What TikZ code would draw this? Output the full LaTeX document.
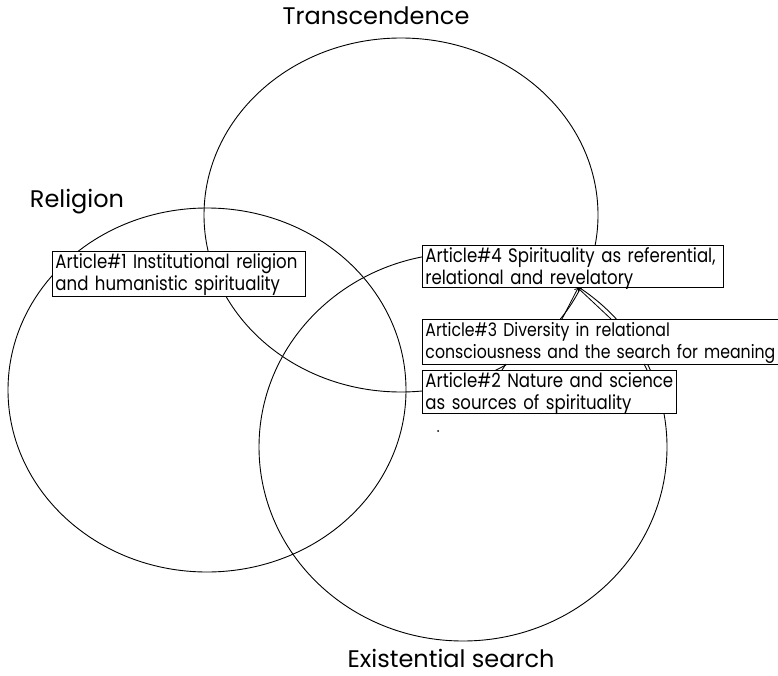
\documentclass[tikz,border=0pt]{standalone}
\usepackage{fontspec}
\setmainfont{Poppins}
\newfontfamily\boxfont[FakeStretch=0.85]{Poppins}
\usetikzlibrary{arrows.meta}
\hyphenpenalty=10000

\tikzset{
  article/.style={draw, fill=white, anchor=north west, align=left,
    inner xsep=3pt, inner ysep=0pt, text height=17pt, line width=0.9pt,
    font=\boxfont\fontsize{19.5}{22}\selectfont},
  circ/.style={line width=0.9pt},
  lbl/.style={anchor=base, inner sep=0pt, font=\fontsize{24}{28}\selectfont}
}

\begin{document}
\begin{tikzpicture}[x=1pt,y=-1pt]
        \useasboundingbox (0,0) rectangle (778,676);

        % the three sets
        \draw[circ] (207,390) ellipse [x radius=199, y radius=182];
        \draw[circ] (401,215) ellipse [x radius=197, y radius=177];
        \draw[circ] (463,447) ellipse [x radius=204, y radius=194];

        \node[lbl] (rel) at (77,208) {Religion};
        \node[lbl] (tra) at (376,25) {Transcendence};
        \node[lbl] (exi) at (451,667) {Existential search};

        % articles
        \node[article, minimum width=253pt, minimum height=45pt, text width=247pt, text depth=28pt] (a1) at (52,251)
            {Article\#1 Institutional religion\\and humanistic spirituality};
        \node[article, minimum width=301pt, minimum height=42pt, text width=295pt, text depth=25pt] (a4) at (422,245)
            {Article\#4 Spirituality as referential,\\relational and revelatory};
        \node[article, minimum width=426pt, minimum height=45pt, text width=420pt, text depth=28pt,
              font=\boxfont\fontsize{18.5}{22}\selectfont] (a3) at (422,319)
            {Article\#3 Diversity in relational\\consciousness and the search for meaning};
        \node[article, minimum width=254pt, minimum height=43pt, text width=248pt, text depth=26pt] (a2) at (422,370)
            {Article\#2 Nature and science\\as sources of spirituality};

        \coordinate (t4) at (578,288);
        \coordinate (s1) at (562,319);
        \coordinate (s2) at (611,319);
        \draw[line width=0.8pt, -{Straight Barb[length=2.5pt,width=5pt]}] (s1) to (t4);
        \draw[line width=0.8pt, -{Straight Barb[length=2.5pt,width=5pt]}] (s2) to (t4);

        \coordinate (u1) at (502,370);
        \coordinate (v1) at (506,364);
        \coordinate (u2) at (647,370);
        \coordinate (v2) at (644,364);
        \draw[line width=0.9pt] (u1) to (v1);
        \draw[line width=0.9pt] (u2) to (v2);

        \fill (438,431) circle [radius=1pt];

    \end{tikzpicture}
\end{document}
